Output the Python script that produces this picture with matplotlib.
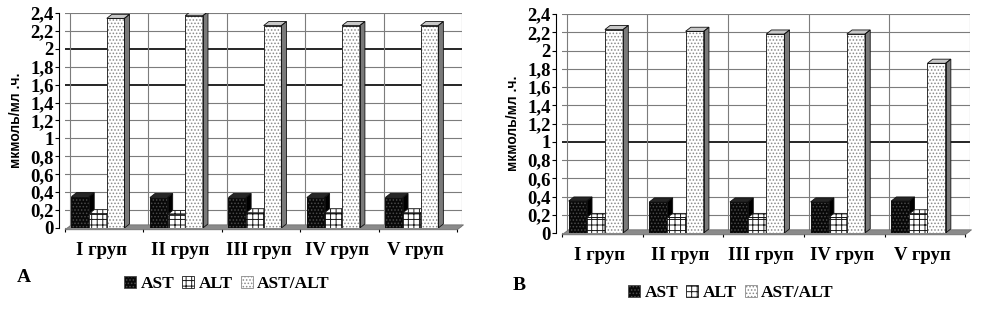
import numpy as np
import matplotlib
matplotlib.use("Agg")
import matplotlib.pyplot as plt
from matplotlib.patches import Polygon, Patch

# ---------------- data ----------------
groups = ['I груп', 'II груп', 'III груп', 'IV груп', 'V груп']
series = ['AST', 'ALT', 'AST/ALT']

ast_A = [0.35, 0.34, 0.34, 0.34, 0.34]
alt_A = [0.16, 0.15, 0.17, 0.17, 0.17]
ratio_A = [2.34, 2.37, 2.26, 2.26, 2.26]

ast_B = [0.35, 0.34, 0.34, 0.34, 0.35]
alt_B = [0.17, 0.17, 0.17, 0.17, 0.21]
ratio_B = [2.23, 2.21, 2.18, 2.18, 1.86]

y_ticks = [0, 0.2, 0.4, 0.6, 0.8, 1.0, 1.2, 1.4, 1.6, 1.8, 2.0, 2.2, 2.4]
y_tick_labels = ['0', '0,2', '0,4', '0,6', '0,8', '1', '1,2', '1,4', '1,6',
                 '1,8', '2', '2,2', '2,4']
dark_grid_A = [1.6, 2.0]
dark_grid_B = [1.0]
y_label = 'мкмоль/мл .ч.'

# ---------------- style ----------------
plt.rcParams['hatch.linewidth'] = 0.7
SERIF = 'Liberation Serif'
SANS = 'Liberation Sans'

styles = {
    'AST': dict(face='#080808', hatch='.....', hcol='#4a4a4a',
                top='#262626', side='#000000'),
    'ALT': dict(face='#ffffff', hatch='+++', hcol='#1a1a1a',
                top='#ffffff', side='#d8d8d8'),
    'AST/ALT': dict(face='#ffffff', hatch='.....', hcol='#8a8a8a',
                    top='#c8c8c8', side='#7a7a7a'),
}

W = 0.225      # bar width (category units)
DX = 0.065     # depth offset x
DY = 0.045     # depth offset y (value units)
SHIFT = 0.14   # cluster shift to the left (3D projection)


def poly(ax, pts, face, hatch=None, hcol=None, z=3):
    ax.add_patch(Polygon(pts, closed=True, facecolor=face,
                         edgecolor=hcol if hatch else face, hatch=hatch,
                         lw=0, zorder=z))
    ax.add_patch(Polygon(pts, closed=True, fill=False, edgecolor='#111111',
                         lw=0.6, zorder=z + 0.01))


def bar3d(ax, x0, v, st, z):
    poly(ax, [(x0 + W, 0), (x0 + W + DX, DY), (x0 + W + DX, v + DY), (x0 + W, v)],
         st['side'], z=z)
    top_hatch = st['hatch'] if st['top'] == '#ffffff' else None
    poly(ax, [(x0, v), (x0 + W, v), (x0 + W + DX, v + DY), (x0 + DX, v + DY)],
         st['top'], top_hatch, st['hcol'], z=z)
    poly(ax, [(x0, 0), (x0 + W, 0), (x0 + W, v), (x0, v)],
         st['face'], st['hatch'], st['hcol'], z=z)


def panel(fig, rect, data, dark):
    ax = fig.add_axes(rect)
    ax.set_xlim(-0.5, 4.5)
    ax.set_ylim(0, 2.4)
    for s in ['top', 'right', 'bottom']:
        ax.spines[s].set_visible(False)
    ax.spines['left'].set_position(('outward', 4))
    ax.spines['left'].set_linewidth(0.8)

    # back wall grid
    for yv in y_ticks:
        if yv in dark:
            ax.axhline(yv, color='#000000', lw=1.2, zorder=1)
        else:
            ax.axhline(yv, color='#7c7c7c', lw=0.8, zorder=1)
    for xb in np.arange(-0.5, 5.0, 1.0):
        ax.axvline(xb, color='#7c7c7c', lw=0.8, zorder=1)

    # floor
    fl = [(-0.56, -0.02), (4.44, -0.02), (4.52, 0.035), (-0.48, 0.035)]
    ax.add_patch(Polygon(fl, closed=True, facecolor='#8a8a8a', edgecolor='#666666',
                         lw=0.5, zorder=2, clip_on=False))

    x = np.arange(len(groups))
    for i in range(len(groups)):
        for k, name in enumerate(series):
            x0 = x[i] + (k - 1) * W - SHIFT - W / 2
            bar3d(ax, x0, data[k][i], styles[name], z=3 + i * 0.1 + k * 0.02)

    ax.set_yticks(y_ticks)
    ax.set_yticklabels(y_tick_labels, fontfamily=SERIF, fontweight='bold', fontsize=13.5)
    ax.tick_params(axis='y', direction='out', length=3, width=0.8, pad=1)

    ax.set_xticks(x - 0.09)
    ax.set_xticklabels(groups, fontfamily=SERIF, fontweight='bold', fontsize=13.5)
    ax.tick_params(axis='x', which='major', length=0, pad=10)
    ax.set_xticks(np.arange(-0.5, 5.0, 1.0) - 0.06, minor=True)
    ax.tick_params(axis='x', which='minor', direction='out', length=3, width=0.8)
    ax.set_ylabel(y_label, fontfamily=SANS, fontweight='bold', fontsize=10, labelpad=5)
    ax.set_axisbelow(True)
    return ax


fig = plt.figure(figsize=(9.87, 3.09), dpi=100)
fig.patch.set_facecolor('white')

FW, FH = 987.0, 309.0
axA = panel(fig, [65 / FW, (FH - 228) / FH, 397 / FW, 215 / FH],
            [ast_A, alt_A, ratio_A], dark_grid_A)
axB = panel(fig, [562 / FW, (FH - 233) / FH, 408 / FW, 219 / FH],
            [ast_B, alt_B, ratio_B], dark_grid_B)


def legend_handles():
    hs = []
    for name in series:
        st = styles[name]
        hs.append(Patch(facecolor=st['face'], edgecolor=st['hcol'], hatch=st['hatch'], lw=0.6))
    return hs


for cx, cy in [(227, 284), (731, 293)]:
    fig.legend(legend_handles(), series, loc='center',
               bbox_to_anchor=(cx / FW, 1 - cy / FH), ncol=3, frameon=False,
               prop=dict(family=SERIF, weight='bold', size=12.5),
               handlelength=0.7, handleheight=0.7, handletextpad=0.25,
               columnspacing=0.45, borderpad=0, borderaxespad=0)

fig.text(24 / FW, 1 - 277 / FH, 'A', ha='center', va='center',
         fontfamily=SERIF, fontweight='bold', fontsize=14)
fig.text(519 / FW, 1 - 285 / FH, 'B', ha='center', va='center',
         fontfamily=SERIF, fontweight='bold', fontsize=14)

fig.savefig('out.png', dpi=100, facecolor='white')
